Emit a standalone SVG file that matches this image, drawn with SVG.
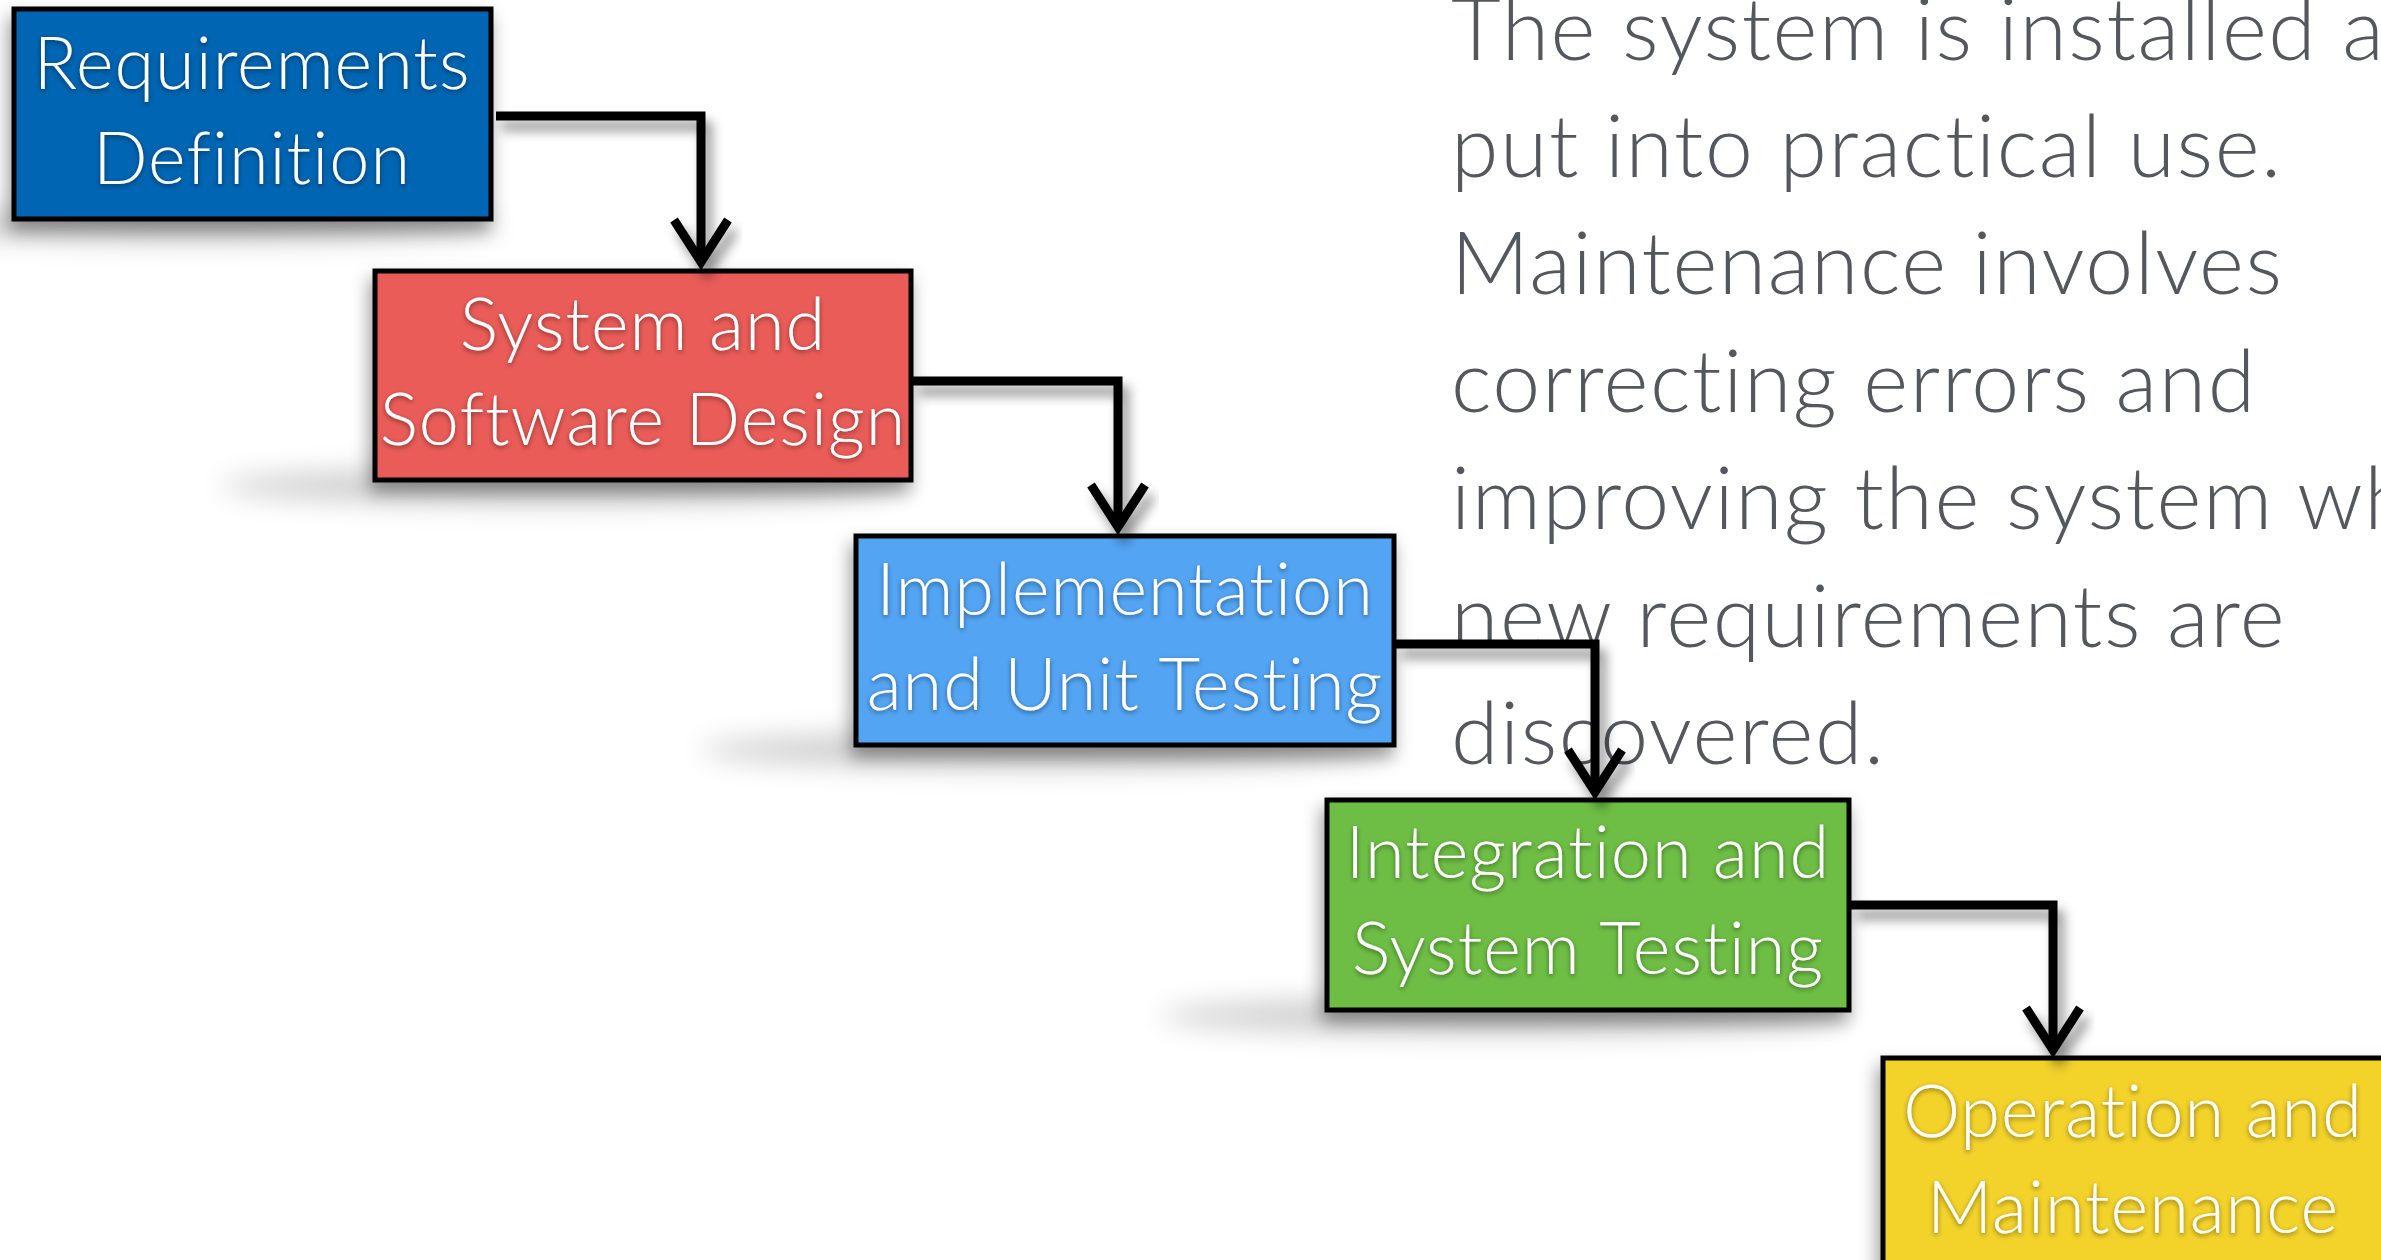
<svg xmlns="http://www.w3.org/2000/svg" width="2381" height="1260" viewBox="0 0 2381 1260">
<defs>
<style>
.box{stroke:#000;stroke-width:5}
.lbl{font-family:Lato,"Open Sans","Liberation Sans",sans-serif;font-weight:300;font-size:72px;letter-spacing:1px;font-variant-ligatures:none;fill:#fff;text-anchor:middle;filter:url(#ts)}
.side{font-family:Lato,"Open Sans","Liberation Sans",sans-serif;font-weight:300;font-size:86px;letter-spacing:1.6px;font-variant-ligatures:none;fill:#53575e}
.con{fill:none;stroke:#000;stroke-width:9;filter:url(#cs)}
.floor{fill:#000;opacity:0.2;filter:url(#fb)}
</style>
<filter id="ts" x="-10%" y="-30%" width="120%" height="160%"><feDropShadow dx="0" dy="2" stdDeviation="2.5" flood-color="#000" flood-opacity="0.45"/></filter>
<filter id="bs" x="-20%" y="-20%" width="140%" height="150%"><feDropShadow dx="-3" dy="10" stdDeviation="9" flood-color="#000" flood-opacity="0.4"/></filter>
<filter id="cs" x="-20%" y="-20%" width="140%" height="150%"><feDropShadow dx="6" dy="10" stdDeviation="6" flood-color="#000" flood-opacity="0.45"/></filter>
<filter id="fb" x="-30%" y="-200%" width="160%" height="500%"><feGaussianBlur stdDeviation="14"/></filter>
<marker id="chev" markerUnits="userSpaceOnUse" markerWidth="60" markerHeight="70" refX="50" refY="30" orient="auto" viewBox="0 0 60 60">
<path d="M8 3 L50 30 L8 57" fill="none" stroke="#000" stroke-width="9" stroke-linejoin="miter"/>
</marker>
</defs>
<rect width="2381" height="1260" fill="#fff"/>
<g id="side-text">
<text class="side" x="1451" y="60">The system is installed a</text>
<text class="side" x="1451" y="177">put into practical use.</text>
<text class="side" x="1451" y="294">Maintenance involves</text>
<text class="side" x="1451" y="412">correcting errors and</text>
<text class="side" x="1451" y="529">improving the system wh</text>
<text class="side" x="1451" y="647">new requirements are</text>
<text class="side" x="1451" y="764">discovered.</text>
</g>
<g id="node-requirements">
<ellipse class="floor" cx="200" cy="225" rx="300" ry="16"/>
<rect class="box" x="14" y="9" width="477" height="210" fill="#0065b2" filter="url(#bs)"/>
<text class="lbl" x="252" y="89">Requirements</text>
<text class="lbl" x="252" y="184">Definition</text>
</g>
<g id="node-design">
<ellipse class="floor" cx="560" cy="486" rx="340" ry="18"/>
<rect class="box" x="375" y="271" width="536" height="209" fill="#ea5c58" filter="url(#bs)"/>
<text class="lbl" x="643" y="350">System and</text>
<text class="lbl" x="643" y="445">Software Design</text>
</g>
<g id="node-implementation">
<ellipse class="floor" cx="1040" cy="750" rx="340" ry="18"/>
<rect class="box" x="856" y="536" width="538" height="209" fill="#52a5f4" filter="url(#bs)"/>
<text class="lbl" x="1125" y="615">Implementation</text>
<text class="lbl" x="1125" y="710">and Unit Testing</text>
</g>
<g id="node-integration">
<ellipse class="floor" cx="1500" cy="1016" rx="340" ry="18"/>
<rect class="box" x="1327" y="800" width="522" height="210" fill="#6ebe44" filter="url(#bs)"/>
<text class="lbl" x="1588" y="878">Integration and</text>
<text class="lbl" x="1588" y="974">System Testing</text>
</g>
<g id="node-operation">
<rect class="box" x="1883" y="1058" width="510" height="230" fill="#f3d22a" filter="url(#bs)"/>
<text class="lbl" x="2133" y="1137">Operation and</text>
<text class="lbl" x="2133" y="1233">Maintenance</text>
</g>
<g id="connectors">
<path class="con" d="M496 116 H701 V262" marker-end="url(#chev)"/>
<path class="con" d="M913 381 H1118 V527" marker-end="url(#chev)"/>
<path class="con" d="M1396 644 H1595 V792" marker-end="url(#chev)"/>
<path class="con" d="M1851 905 H2053 V1050" marker-end="url(#chev)"/>
</g>
</svg>
